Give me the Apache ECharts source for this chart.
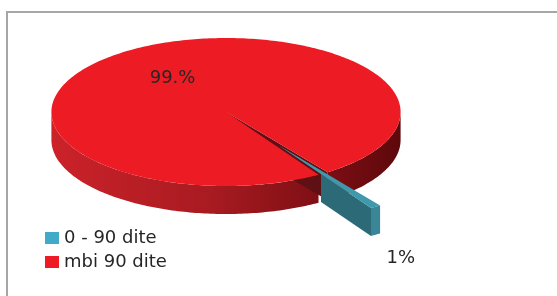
<!DOCTYPE html>
<html>
<head>
<meta charset="utf-8">
<script src="https://cdn.jsdelivr.net/npm/echarts@6/dist/echarts.min.js"></script>
<style>
  html, body { margin: 0; padding: 0; background: #fff; }
  #chart { width: 557px; height: 296px; }
</style>
</head>
<body>
<div id="chart"></div>
<script>
// --- data ---
const categories = ['0 - 90 dite', 'mbi 90 dite'];
const values = [1, 99];
const labels = ['1%', '99.%'];

// --- look ---
const topColors = ['#3F98AC', '#ED1C24'];
const legendColors = ['#41AAC8', '#ED1C24'];
const faceColors = ['#2C6A77', '#5E1014'];
const wallColors = ['#3A8596', null];
const textColor = '#262626';
const font = '"DejaVu Sans", sans-serif';

// 3D pie geometry (px). Angles in degrees, clockwise from 3 o'clock.
const cx = 226, cy = 112, rx = 174.6, ry = 74, depth = 28;
const startDeg = 54.4;
const explode = [0.54, 0];
const labelRadius = [1.26, 0.55];
const labelDy = [36, 0];

const total = values.reduce((a, b) => a + b, 0);
const cum = values.map((v, i) => values.slice(0, i).reduce((a, b) => a + b, 0));
const rad = d => d * Math.PI / 180;

function pt(u, v, dz, off) {
    return [cx + (u + off[0]) * rx, cy + (v + off[1]) * ry + dz];
}

function arcPts(a0, a1, dz, off) {
    const pts = [];
    const n = Math.max(2, Math.ceil(Math.abs(a1 - a0)));
    for (let k = 0; k <= n; k++) {
        const a = rad(a0 + (a1 - a0) * k / n);
        pts.push(pt(Math.cos(a), Math.sin(a), dz, off));
    }
    return pts;
}

// parts of [a0, a1] that lie on the front half (0..180)
function frontRanges(a0, a1) {
    const out = [];
    for (const k of [-360, 0, 360]) {
        const s = Math.max(a0, k), e = Math.min(a1, k + 180);
        if (e > s) out.push([s, e]);
    }
    return out;
}

function wallGradient() {
    return {
        type: 'linear', global: true, x: cx - rx, y: 0, x2: cx + rx, y2: 0,
        colorStops: [
            { offset: 0, color: '#CC222A' },
            { offset: 0.45, color: '#A81B21' },
            { offset: 0.8, color: '#7A0E13' },
            { offset: 1, color: '#5E080C' }
        ]
    };
}

function renderSlice(params, api) {
    const i = params.seriesIndex;
    const a0 = startDeg + 360 * cum[i] / total;
    const a1 = a0 + 360 * api.value(0) / total;
    const mid = rad((a0 + a1) / 2);
    const off = [explode[i] * Math.cos(mid), explode[i] * Math.sin(mid)];
    const children = [];

    // outer wall, front part only
    frontRanges(a0, a1).forEach(([s, e]) => {
        const top = arcPts(s, e, 0, off);
        const bot = arcPts(s, e, depth, off).reverse();
        children.push({
            type: 'polygon', z2: explode[i] > 0 ? 2 : 1,
            shape: { points: top.concat(bot) },
            style: { fill: wallColors[i] || wallGradient() }
        });
    });

    // radial faces that turn toward the viewer
    [[a0, -1], [a1, 1]].forEach(([a, side]) => {
        const visible = side > 0 ? Math.cos(rad(a)) > 0 : Math.cos(rad(a)) < 0;
        if (!visible) return;
        const d = [Math.cos(rad(a)), Math.sin(rad(a))];
        let t0 = 0;
        if (explode[i] > 0) {
            // only the part that sticks out of the rest of the pie shows
            const od = off[0] * d[0] + off[1] * d[1];
            const oo = off[0] * off[0] + off[1] * off[1];
            t0 = Math.max(0, -od + Math.sqrt(od * od - oo + 1));
        }
        const p0 = pt(t0 * d[0], t0 * d[1], 0, off);
        const p1 = pt(d[0], d[1], 0, off);
        children.push({
            type: 'polygon', z2: explode[i] > 0 ? 2 : 1.5,
            shape: { points: [p0, p1, [p1[0], p1[1] + depth], [p0[0], p0[1] + depth]] },
            style: { fill: faceColors[i] }
        });
    });

    // top face
    children.push({
        type: 'polygon', z2: explode[i] > 0 ? 4 : 3,
        shape: { points: [pt(0, 0, 0, off)].concat(arcPts(a0, a1, 0, off)) },
        style: { fill: topColors[i] }
    });

    // percent label
    const lp = pt(labelRadius[i] * Math.cos(mid), labelRadius[i] * Math.sin(mid), labelDy[i], off);
    children.push({
        type: 'text', z2: 10,
        x: lp[0], y: lp[1],
        style: {
            text: labels[i], fill: textColor, font: '18px ' + font,
            align: 'center', verticalAlign: 'middle'
        }
    });

    return { type: 'group', children };
}

const chart = echarts.init(document.getElementById('chart'), null, { renderer: 'canvas' });

chart.setOption({
    animation: false,
    backgroundColor: '#fff',
    graphic: [{
        type: 'rect', silent: true, z: -1,
        shape: { x: 7, y: 12, width: 700, height: 400 },
        style: { fill: 'none', stroke: '#A6A6A6', lineWidth: 2 }
    }],
    legend: {
        orient: 'vertical', left: 45, top: 229, padding: 0,
        icon: 'rect', itemWidth: 14, itemHeight: 12, itemGap: 6,
        data: categories,
        textStyle: { fontFamily: font, fontSize: 18, color: textColor }
    },
    series: categories.map((name, i) => ({
        type: 'custom',
        name,
        coordinateSystem: 'none',
        itemStyle: { color: legendColors[i] },
        renderItem: renderSlice,
        data: [[values[i]]]
    }))
});
</script>
</body>
</html>
